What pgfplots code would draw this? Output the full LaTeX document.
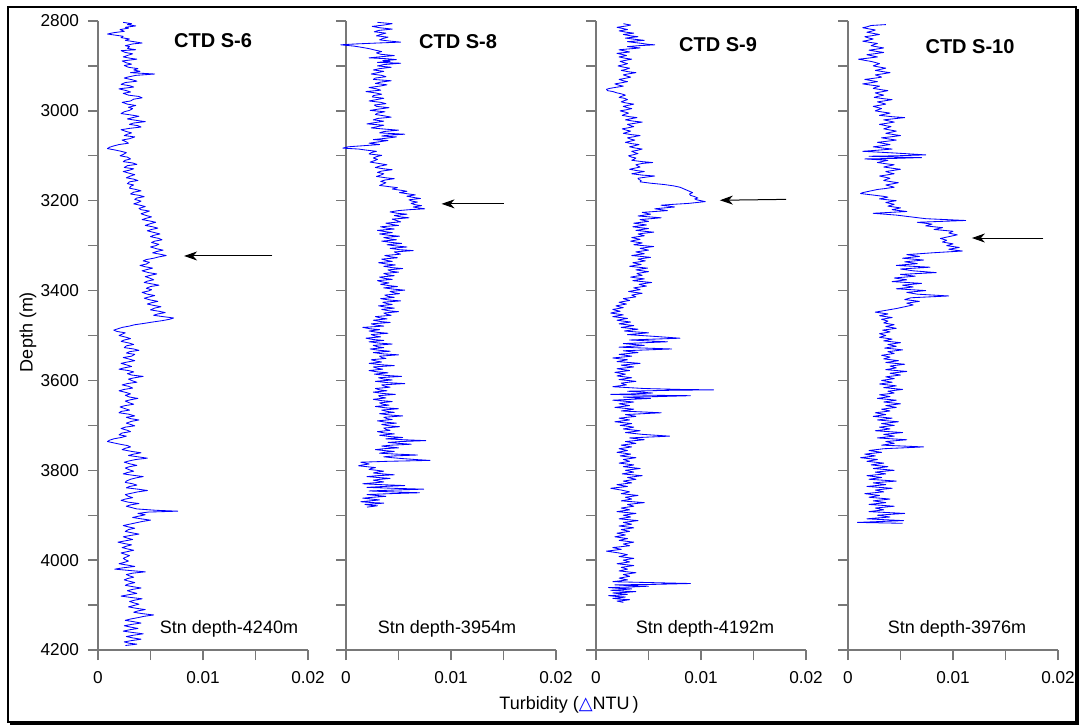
\documentclass[border=0pt]{standalone}
\usepackage{pgfplots}
\pgfplotsset{compat=1.18}
\usepackage{fontspec}
\setmainfont{Liberation Sans}
\newfontfamily\dejavu{DejaVu Sans}
\usetikzlibrary{arrows.meta}
\definecolor{axgray}{RGB}{120,120,120}
\pgfplotsset{ctd/.style={
  scale only axis, width=105pt, height=314.5pt,
  xmin=0, xmax=20, ymin=2800, ymax=4200, y dir=reverse,
  axis x line=bottom, axis y line=left,
  axis line style={-, draw=axgray, line width=0.7pt},
  xtick={0,5,10,15,20}, xticklabels={0,,0.01,,0.02},
  ytick={2800,2900,...,4200}, yticklabels={},
  tick align=outside, major tick length=5pt,
  tick style={draw=axgray, line width=0.7pt},
  tick label style={font=\fontsize{8.6}{10}\selectfont},
  xticklabel style={yshift=-2pt},
  yticklabel style={xshift=-1pt},
  clip=false,
  anchor=south west,
}}
\tikzset{trace/.style={blue, line width=0.42pt, mark=none, line join=round},
  arr/.style={-{Stealth[length=6.5pt,width=4.5pt,inset=2pt]}, line width=0.5pt, black}}
\begin{document}
\begin{tikzpicture}
\path[use as bounding box] (0,0) rectangle (540pt,363.5pt);
\fill[white] (0,0) rectangle (540pt,363.5pt);
% panel 1
\begin{axis}[ctd, at={(49pt,38.5pt)}, yticklabels={2800,,3000,,3200,,3400,,3600,,3800,,4000,,4200}]
\addplot[trace] coordinates {
(2.4,2803) (3.2,2806) (2.8,2808) (3.6,2811) (2.6,2814) (2.9,2816) (2.1,2819) (2.5,2823) (1.5,2826) (0.9,2829)
(1.8,2832) (2.4,2834) (2.2,2837) (3.0,2840) (2.6,2843) (3.4,2846) (4.2,2849) (3.3,2851) (2.6,2855) (3.0,2857)
(2.8,2861) (3.6,2864) (2.2,2866) (2.6,2870) (3.3,2873) (2.9,2876) (2.4,2880) (3.1,2883) (3.7,2885) (2.3,2889)
(2.7,2893) (3.2,2896) (2.5,2899) (2.9,2903) (3.8,2906) (3.4,2909) (4.0,2912) (3.1,2915) (5.4,2918) (3.6,2921)
(2.8,2925) (2.5,2927) (3.3,2931) (3.7,2934) (2.6,2937) (2.2,2941) (3.0,2944) (3.4,2947) (2.0,2951) (2.7,2955)
(3.1,2958) (2.4,2961) (2.9,2965) (3.9,2968) (4.2,2971) (3.4,2974) (3.1,2978) (2.3,2981) (2.8,2985) (3.6,2988)
(2.9,2992) (3.3,2995) (3.0,2999) (2.5,3002) (2.2,3006) (3.1,3009) (3.9,3012) (3.3,3015) (2.8,3018) (3.6,3021)
(4.5,3024) (3.4,3027) (3.0,3030) (3.8,3033) (4.1,3036) (3.0,3039) (2.2,3042) (2.7,3046) (3.2,3049) (2.8,3052)
(2.5,3055) (3.5,3058) (3.0,3062) (2.3,3065) (2.7,3069) (2.9,3072) (2.0,3075) (1.5,3078) (1.1,3081) (0.9,3084)
(1.6,3087) (2.2,3090) (2.7,3093) (2.4,3097) (2.1,3100) (2.8,3103) (3.1,3107) (2.6,3110) (2.4,3113) (3.3,3116)
(3.7,3119) (2.8,3122) (2.5,3126) (3.4,3129) (3.0,3132) (2.4,3135) (3.0,3139) (3.5,3142) (3.1,3145) (2.7,3149)
(3.4,3152) (3.8,3155) (3.0,3158) (2.8,3162) (3.4,3165) (3.1,3168) (3.0,3172) (3.6,3175) (4.1,3178) (3.4,3181)
(3.1,3185) (3.9,3188) (4.4,3191) (3.7,3194) (3.5,3197) (4.1,3201) (3.8,3204) (3.4,3207) (4.0,3210) (4.5,3213)
(3.9,3217) (4.1,3220) (4.9,3223) (4.5,3226) (4.1,3229) (4.6,3233) (5.1,3236) (4.6,3239) (4.2,3242) (4.9,3245)
(5.5,3248) (5.0,3251) (4.5,3255) (5.2,3258) (5.7,3261) (5.1,3264) (4.7,3267) (5.4,3271) (5.9,3274) (5.3,3277)
(5.0,3280) (5.8,3284) (6.1,3287) (5.4,3290) (5.1,3293) (5.8,3297) (5.5,3300) (5.0,3303) (5.6,3307) (6.2,3310)
(5.6,3313) (5.2,3316) (5.9,3319) (6.5,3322) (5.8,3325) (5.3,3328) (4.6,3331) (4.3,3334) (4.9,3337) (4.6,3341)
(4.0,3344) (4.5,3347) (5.2,3350) (4.7,3353) (4.2,3356) (4.8,3360) (5.6,3363) (5.0,3366) (4.5,3369) (4.9,3372)
(5.3,3376) (4.7,3379) (4.4,3382) (5.1,3385) (5.8,3388) (5.0,3391) (4.6,3395) (5.1,3398) (4.8,3401) (4.2,3404)
(4.7,3408) (5.4,3411) (4.9,3414) (4.4,3417) (5.0,3421) (5.7,3424) (5.1,3427) (4.7,3430) (5.3,3433) (6.0,3436)
(5.4,3439) (5.0,3443) (5.8,3446) (6.4,3449) (5.7,3452) (5.3,3455) (6.2,3458) (7.2,3461) (6.8,3464) (6.1,3467)
(5.2,3470) (4.4,3473) (3.5,3476) (3.0,3479) (2.3,3482) (1.9,3485) (1.5,3488) (1.8,3491) (2.6,3494) (2.3,3497)
(2.0,3500) (2.7,3504) (3.1,3507) (2.5,3510) (2.2,3513) (3.0,3517) (3.4,3520) (2.7,3523) (2.5,3527) (3.4,3530)
(3.9,3533) (3.0,3536) (2.7,3539) (3.5,3542) (3.2,3546) (2.4,3549) (2.9,3552) (3.5,3556) (2.8,3559) (2.2,3562)
(2.8,3566) (3.2,3569) (2.5,3572) (2.0,3575) (2.9,3578) (3.4,3581) (2.8,3585) (3.2,3588) (4.3,3591) (3.5,3594)
(2.9,3597) (3.3,3601) (3.7,3604) (2.8,3607) (2.3,3610) (2.9,3613) (3.3,3617) (2.5,3620) (2.0,3623) (2.7,3627)
(3.1,3630) (2.6,3633) (3.0,3637) (3.8,3640) (3.1,3643) (2.6,3646) (3.0,3650) (3.4,3653) (2.6,3656) (2.1,3659)
(2.6,3663) (3.0,3666) (2.2,3669) (2.0,3672) (2.9,3675) (3.5,3679) (2.7,3682) (3.1,3685) (3.9,3688) (3.2,3691)
(2.7,3695) (3.1,3698) (3.5,3701) (2.6,3704) (2.2,3707) (2.8,3711) (3.1,3714) (2.3,3717) (2.0,3721) (2.7,3724)
(2.2,3727) (1.5,3730) (1.1,3733) (0.9,3736) (1.5,3739) (2.1,3742) (2.8,3745) (3.1,3748) (2.6,3751) (2.3,3754)
(3.2,3758) (4.1,3761) (3.4,3764) (2.9,3767) (3.8,3770) (4.7,3773) (3.6,3776) (3.0,3779) (2.5,3782) (3.1,3786)
(3.7,3789) (3.0,3792) (2.6,3795) (3.0,3799) (3.4,3802) (2.8,3805) (2.4,3808) (3.3,3811) (4.3,3814) (3.6,3817)
(3.1,3820) (2.7,3824) (2.6,3827) (3.3,3830) (3.7,3833) (3.0,3836) (2.7,3839) (3.8,3842) (4.7,3845) (3.8,3848)
(3.2,3851) (2.6,3854) (2.9,3858) (3.3,3861) (2.6,3864) (2.2,3867) (2.9,3871) (3.9,3874) (3.1,3877) (2.7,3880)
(3.2,3883) (3.7,3886) (5.5,3889) (7.6,3891) (4.8,3893) (3.8,3896) (4.5,3899) (3.9,3902) (3.3,3905) (4.1,3908)
(5.0,3911) (4.2,3914) (3.6,3917) (3.0,3920) (2.4,3923) (2.9,3926) (3.5,3929) (2.9,3932) (2.6,3936) (3.2,3939)
(3.9,3942) (3.1,3945) (2.4,3948) (2.8,3951) (3.3,3954) (2.6,3957) (1.9,3960) (2.5,3963) (3.2,3966) (2.7,3969)
(2.3,3972) (2.8,3975) (3.4,3978) (2.8,3981) (2.2,3984) (2.6,3987) (3.0,3990) (2.7,3993) (2.4,3996) (2.6,3999)
(2.9,4002) (2.5,4005) (2.0,4008) (2.8,4011) (3.5,4014) (2.4,4017) (1.6,4020) (3.0,4023) (4.5,4026) (3.3,4029)
(2.7,4032) (3.0,4035) (3.4,4038) (2.8,4041) (2.5,4044) (3.0,4047) (3.5,4050) (2.9,4053) (2.6,4056) (3.3,4059)
(4.1,4062) (3.3,4065) (2.8,4068) (3.2,4071) (3.7,4074) (2.9,4077) (2.2,4080) (3.1,4083) (4.2,4086) (3.5,4089)
(3.0,4092) (3.4,4095) (3.9,4098) (3.4,4101) (2.9,4104) (3.6,4107) (4.5,4110) (3.8,4113) (3.4,4116) (4.2,4119)
(5.3,4122) (4.4,4125) (3.8,4128) (3.1,4131) (2.6,4134) (3.4,4137) (4.1,4140) (3.2,4143) (2.5,4146) (3.1,4149)
(3.8,4152) (3.0,4155) (2.4,4158) (3.3,4161) (4.3,4164) (3.4,4167) (2.7,4170) (3.3,4173) (4.1,4176) (3.2,4179)
(2.5,4182) (3.0,4185) (3.7,4187) (2.6,4190)
};
\draw[arr] (axis cs:16.6,3323) -- (axis cs:8.2,3323);
\end{axis}
% panel 2
\begin{axis}[ctd, at={(173pt,38.5pt)}]
\addplot[trace] coordinates {
(3.0,2803) (4.4,2806) (3.6,2809) (2.5,2812) (3.2,2815) (4.4,2818) (3.1,2821) (2.7,2824) (3.8,2827) (3.3,2830)
(2.9,2833) (4.0,2836) (3.5,2839) (3.2,2842) (4.3,2845) (5.2,2847) (3.0,2849) (1.0,2851) (-0.5,2853) (0.8,2856)
(1.6,2859) (2.3,2862) (2.8,2865) (3.4,2868) (2.9,2871) (3.3,2874) (4.6,2877) (3.1,2880) (2.2,2882) (3.9,2884)
(4.8,2886) (3.5,2888) (4.2,2890) (3.0,2892) (5.2,2894) (3.6,2897) (3.0,2900) (4.3,2903) (3.2,2906) (2.6,2909)
(3.6,2912) (3.0,2915) (2.4,2918) (3.4,2921) (3.8,2924) (2.8,2927) (2.6,2930) (4.3,2933) (3.3,2936) (2.8,2939)
(3.9,2942) (3.2,2945) (2.2,2948) (2.9,2951) (3.3,2954) (1.9,2957) (2.8,2960) (3.4,2963) (2.6,2966) (2.5,2969)
(3.6,2972) (2.9,2975) (2.2,2978) (3.3,2981) (3.8,2984) (2.7,2987) (2.9,2990) (4.1,2993) (3.1,2996) (2.3,2999)
(3.7,3002) (3.0,3005) (2.8,3008) (3.6,3011) (4.3,3014) (3.0,3017) (2.6,3020) (3.6,3023) (2.8,3026) (2.0,3029)
(3.6,3032) (3.0,3035) (2.4,3038) (3.9,3041) (5.0,3043) (3.6,3046) (3.2,3049) (5.6,3052) (4.0,3054) (3.4,3056)
(4.8,3058) (3.8,3061) (2.6,3064) (4.0,3066) (3.1,3069) (2.2,3072) (3.2,3075) (1.4,3078) (0.2,3080) (-0.3,3083)
(1.2,3085) (1.8,3087) (2.9,3090) (2.4,3093) (2.2,3096) (3.4,3099) (2.9,3102) (2.6,3105) (3.0,3108) (2.7,3111)
(2.3,3114) (3.1,3117) (3.9,3120) (3.2,3123) (2.8,3126) (3.6,3129) (4.4,3131) (3.4,3134) (3.0,3137) (3.6,3140)
(3.3,3143) (2.9,3146) (3.8,3149) (4.6,3151) (3.7,3154) (3.3,3157) (3.8,3160) (3.5,3163) (3.2,3166) (4.2,3169)
(4.9,3171) (4.4,3174) (5.3,3177) (5.8,3179) (5.1,3182) (6.0,3185) (6.6,3187) (5.8,3190) (6.5,3193) (7.1,3195)
(6.0,3198) (6.3,3201) (6.8,3203) (6.2,3206) (6.6,3209) (7.2,3211) (6.4,3214) (6.9,3216) (7.5,3218) (6.0,3220)
(5.0,3222) (4.2,3225) (4.9,3228) (5.8,3230) (4.6,3233) (5.2,3236) (6.0,3238) (4.4,3241) (4.8,3244) (5.2,3247)
(3.8,3250) (4.4,3253) (5.0,3255) (3.3,3258) (3.9,3261) (4.6,3263) (3.0,3266) (3.8,3269) (4.4,3271) (3.2,3274)
(4.1,3277) (5.1,3279) (3.6,3282) (4.2,3285) (4.8,3287) (3.4,3290) (4.4,3293) (5.3,3295) (3.9,3298) (4.9,3301)
(5.8,3303) (4.2,3306) (5.1,3309) (6.4,3311) (4.6,3314) (4.9,3317) (5.2,3319) (3.7,3322) (4.3,3325) (4.9,3327)
(3.4,3330) (3.9,3333) (4.4,3335) (3.1,3338) (3.9,3341) (4.7,3343) (3.6,3346) (4.4,3349) (5.4,3351) (4.0,3354)
(4.3,3357) (5.0,3359) (3.6,3362) (4.0,3365) (4.6,3367) (3.2,3370) (3.7,3373) (4.4,3375) (3.0,3378) (3.5,3381)
(4.1,3383) (3.3,3386) (4.1,3389) (4.9,3391) (3.6,3394) (4.6,3397) (5.6,3399) (4.2,3402) (4.6,3405) (5.1,3407)
(3.7,3410) (4.0,3413) (4.6,3415) (3.3,3418) (4.1,3421) (5.2,3423) (3.5,3426) (3.9,3429) (4.4,3431) (3.1,3434)
(3.8,3437) (4.6,3439) (3.4,3442) (4.1,3445) (5.0,3447) (3.6,3450) (3.9,3453) (4.3,3455) (2.8,3458) (3.3,3461)
(3.9,3463) (2.6,3466) (3.3,3469) (4.2,3471) (2.4,3474) (2.9,3477) (3.6,3479) (1.6,3482) (2.3,3485) (3.2,3487)
(2.2,3490) (3.0,3493) (4.0,3495) (2.4,3498) (2.8,3501) (3.3,3503) (1.9,3506) (2.6,3509) (3.6,3511) (2.2,3514)
(3.2,3517) (4.4,3519) (2.6,3522) (3.0,3525) (3.6,3527) (2.3,3530) (3.2,3533) (4.2,3535) (2.6,3538) (3.6,3541)
(5.0,3543) (3.2,3546) (3.4,3549) (3.8,3551) (2.4,3554) (2.9,3557) (3.4,3559) (2.2,3562) (3.3,3565) (4.6,3567)
(2.6,3570) (3.0,3573) (3.5,3575) (2.2,3578) (3.0,3581) (4.0,3583) (2.7,3586) (3.9,3589) (5.3,3591) (3.1,3594)
(3.6,3597) (4.4,3599) (2.8,3602) (4.0,3605) (5.6,3607) (3.4,3610) (3.7,3613) (4.2,3615) (2.8,3618) (3.2,3621)
(3.9,3623) (2.6,3626) (3.5,3629) (4.7,3631) (3.1,3634) (3.3,3637) (3.8,3639) (2.6,3642) (3.4,3645) (4.4,3647)
(3.2,3650) (3.5,3653) (4.1,3655) (2.8,3658) (3.8,3661) (5.0,3663) (3.4,3666) (3.9,3669) (4.6,3671) (3.2,3674)
(4.2,3677) (5.4,3679) (3.6,3682) (3.9,3685) (4.4,3687) (3.0,3690) (3.8,3693) (4.8,3695) (3.4,3698) (4.1,3701)
(5.1,3703) (3.6,3706) (3.8,3709) (4.2,3711) (3.0,3714) (3.7,3717) (4.6,3719) (3.2,3722) (4.2,3725) (5.4,3727)
(3.8,3730) (5.5,3732) (7.6,3734) (5.2,3736) (4.0,3738) (5.0,3740) (6.2,3742) (4.4,3744) (3.4,3746) (4.1,3748)
(5.0,3750) (3.6,3752) (2.8,3754) (3.6,3756) (4.6,3758) (3.7,3760) (3.2,3762) (4.8,3764) (6.8,3766) (4.6,3768)
(3.6,3770) (4.4,3772) (5.4,3774) (6.6,3776) (8.0,3778) (4.0,3780) (1.4,3782) (1.8,3784) (2.2,3786) (1.6,3788)
(1.2,3790) (2.0,3792) (2.8,3794) (2.4,3796) (2.2,3798) (2.9,3800) (3.6,3802) (3.0,3804) (2.6,3806) (3.5,3808)
(4.6,3810) (3.0,3812) (2.0,3814) (3.0,3816) (4.2,3818) (3.3,3820) (2.6,3822) (3.1,3824) (3.6,3826) (2.6,3828)
(1.6,3830) (3.4,3832) (5.6,3834) (3.6,3836) (2.0,3838) (4.4,3840) (7.4,3842) (4.6,3844) (2.2,3846) (4.4,3848)
(7.0,3850) (4.2,3852) (2.0,3854) (2.9,3856) (3.8,3858) (2.6,3860) (1.6,3862) (2.4,3864) (3.2,3866) (2.3,3868)
(1.4,3870) (2.6,3872) (3.6,3873) (2.7,3875) (1.8,3876) (2.4,3878) (3.0,3879) (2.0,3882)
};
\draw[arr] (axis cs:15.0,3207) -- (axis cs:9.1,3207);
\end{axis}
% panel 3
\begin{axis}[ctd, at={(298pt,38.5pt)}]
\addplot[trace] coordinates {
(2.6,2806) (3.3,2809) (2.9,2811) (2.0,2814) (2.6,2817) (3.0,2819) (2.2,2822) (2.9,2825) (3.6,2827) (2.6,2830)
(3.3,2833) (4.0,2835) (2.8,2838) (3.8,2841) (4.6,2843) (3.0,2846) (3.7,2848) (4.4,2850) (5.0,2852) (5.6,2853)
(4.0,2855) (3.0,2857) (4.2,2860) (3.2,2862) (2.2,2864) (2.8,2867) (3.2,2869) (2.0,2872) (2.6,2875) (2.9,2877)
(2.2,2880) (2.8,2883) (3.4,2885) (2.7,2888) (2.3,2890) (2.7,2893) (3.0,2895) (2.5,2898) (2.1,2900) (2.7,2903)
(3.2,2905) (2.8,2908) (2.4,2910) (3.1,2913) (3.8,2915) (3.0,2918) (2.6,2920) (3.0,2923) (3.3,2925) (2.7,2928)
(2.2,2930) (2.6,2933) (3.0,2935) (2.3,2938) (1.8,2940) (2.2,2943) (2.6,2945) (1.8,2948) (1.3,2950) (1.0,2952)
(1.1,2955) (1.6,2957) (2.0,2960) (2.4,2962) (2.8,2965) (2.5,2967) (2.2,2970) (2.7,2972) (3.0,2975) (2.6,2978)
(2.4,2980) (3.0,2983) (3.6,2985) (3.0,2988) (2.6,2990) (3.0,2993) (3.4,2995) (2.8,2998) (2.3,3000) (2.8,3003)
(3.1,3005) (2.7,3008) (2.5,3010) (3.2,3013) (3.9,3015) (3.2,3018) (2.8,3020) (3.6,3023) (4.4,3025) (3.6,3028)
(3.0,3030) (3.3,3033) (3.6,3035) (3.0,3038) (2.5,3040) (2.9,3043) (3.3,3045) (2.9,3048) (2.6,3050) (3.4,3053)
(4.2,3055) (3.5,3058) (3.0,3060) (3.3,3063) (3.7,3065) (3.2,3068) (2.8,3070) (3.4,3073) (4.1,3075) (3.6,3078)
(3.2,3080) (3.8,3083) (4.4,3085) (3.9,3088) (3.4,3090) (3.7,3093) (4.0,3095) (3.5,3098) (3.1,3100) (3.4,3103)
(3.8,3105) (3.6,3108) (3.4,3110) (4.4,3113) (5.4,3115) (4.4,3117) (3.8,3120) (4.0,3123) (4.2,3125) (3.6,3128)
(3.2,3130) (3.9,3133) (4.6,3135) (3.9,3138) (3.4,3140) (4.4,3143) (5.6,3145) (4.6,3148) (4.0,3150) (4.1,3153)
(4.3,3155) (4.2,3158) (5.2,3161) (6.5,3164) (7.4,3167) (8.0,3170) (8.3,3173) (8.6,3176) (8.9,3179) (9.2,3182)
(8.9,3185) (9.0,3188) (9.4,3191) (9.7,3194) (9.4,3196) (9.6,3198) (10.0,3200) (10.4,3202) (9.6,3204) (8.8,3206)
(7.4,3208) (6.2,3210) (6.9,3212) (7.5,3214) (6.5,3216) (5.6,3218) (6.2,3220) (6.8,3222) (5.6,3224) (4.4,3226)
(4.8,3228) (5.2,3230) (4.6,3232) (4.0,3234) (5.1,3236) (6.2,3238) (5.2,3240) (4.2,3242) (4.6,3244) (5.0,3246)
(4.3,3248) (3.6,3250) (4.2,3252) (4.8,3254) (4.1,3256) (3.5,3258) (4.2,3260) (5.0,3262) (4.4,3264) (3.8,3266)
(4.6,3268) (5.5,3270) (4.7,3272) (4.0,3274) (4.3,3276) (4.6,3278) (4.0,3280) (3.4,3282) (3.8,3284) (4.2,3286)
(3.7,3288) (3.3,3290) (3.8,3292) (4.4,3294) (4.0,3296) (3.6,3298) (4.5,3300) (5.5,3302) (4.8,3304) (4.2,3306)
(4.6,3308) (5.0,3310) (4.4,3312) (3.8,3314) (4.2,3316) (4.6,3318) (4.0,3320) (3.4,3322) (4.3,3324) (5.2,3326)
(4.6,3328) (4.0,3330) (4.3,3332) (4.7,3334) (4.1,3336) (3.5,3338) (3.9,3340) (4.3,3342) (3.7,3344) (3.2,3346)
(4.0,3348) (4.9,3350) (4.3,3352) (3.8,3354) (4.4,3356) (5.0,3358) (4.4,3360) (3.9,3362) (4.1,3364) (4.4,3366)
(3.8,3368) (3.3,3370) (3.9,3372) (4.6,3374) (4.0,3376) (3.5,3378) (4.4,3380) (5.3,3382) (4.7,3384) (4.1,3386)
(4.4,3388) (4.8,3390) (4.2,3392) (3.6,3394) (3.9,3396) (4.2,3398) (3.6,3400) (3.1,3402) (3.7,3404) (4.4,3406)
(3.9,3408) (3.4,3410) (3.6,3412) (3.8,3414) (3.2,3416) (2.6,3418) (2.9,3420) (3.2,3422) (2.7,3424) (2.2,3426)
(2.5,3428) (2.9,3430) (2.4,3432) (1.9,3434) (2.2,3436) (2.6,3438) (2.1,3440) (1.6,3442) (1.9,3444) (2.3,3446)
(1.8,3448) (1.4,3450) (2.0,3452) (2.6,3454) (2.1,3456) (1.6,3458) (2.3,3460) (3.0,3462) (2.5,3464) (2.0,3466)
(2.6,3468) (3.3,3470) (2.7,3472) (2.2,3474) (2.9,3476) (3.6,3478) (3.0,3480) (2.4,3482) (3.2,3484) (4.0,3486)
(3.3,3488) (2.7,3490) (3.8,3492) (5.0,3494) (4.0,3496) (3.0,3498) (4.3,3500) (5.6,3502) (6.8,3504) (8.0,3506)
(5.6,3508) (3.2,3510) (5.0,3512) (6.8,3514) (4.7,3516) (2.6,3518) (3.6,3520) (4.6,3522) (3.4,3524) (2.2,3526)
(4.7,3528) (7.2,3530) (4.9,3532) (2.6,3534) (3.3,3536) (4.0,3538) (3.1,3540) (2.2,3542) (2.8,3544) (3.4,3546)
(2.5,3548) (1.6,3550) (2.3,3552) (3.0,3554) (2.5,3556) (2.0,3558) (3.1,3560) (4.2,3562) (3.3,3564) (2.4,3566)
(3.0,3568) (3.6,3570) (2.8,3572) (2.0,3574) (2.6,3576) (3.2,3578) (2.5,3580) (1.8,3582) (2.3,3584) (2.8,3586)
(2.4,3588) (2.0,3590) (2.7,3592) (3.4,3594) (2.8,3596) (2.2,3598) (3.0,3600) (3.8,3602) (3.1,3604) (2.4,3606)
(2.6,3608) (2.9,3610) (2.2,3612) (1.6,3614) (3.1,3616) (4.6,3618) (8.0,3620) (11.2,3621) (7.0,3622) (3.0,3624)
(4.2,3626) (5.4,3628) (3.4,3630) (1.4,3631) (5.2,3633) (9.0,3634) (5.8,3636) (2.6,3637) (3.9,3639) (5.2,3640)
(3.4,3642) (1.6,3644) (2.6,3646) (3.6,3648) (2.9,3650) (2.2,3652) (2.7,3654) (3.2,3656) (2.5,3658) (1.8,3660)
(2.7,3662) (3.6,3664) (3.0,3666) (2.4,3668) (4.3,3670) (6.2,3672) (4.5,3674) (2.8,3676) (3.3,3678) (3.8,3680)
(3.0,3682) (2.2,3684) (2.7,3686) (3.2,3688) (2.5,3690) (1.8,3692) (2.6,3694) (3.4,3696) (2.9,3698) (2.3,3700)
(3.0,3702) (3.6,3704) (3.1,3706) (2.6,3708) (3.4,3710) (4.2,3712) (3.5,3714) (2.8,3716) (3.6,3718) (4.4,3720)
(5.7,3722) (7.0,3724) (5.1,3726) (3.2,3728) (3.9,3730) (4.6,3732) (3.7,3734) (2.8,3736) (3.3,3738) (3.8,3740)
(3.1,3742) (2.4,3744) (2.9,3746) (3.4,3748) (2.8,3750) (2.2,3752) (2.6,3754) (3.0,3756) (2.5,3758) (2.0,3760)
(2.7,3762) (3.3,3764) (2.8,3766) (2.3,3768) (3.0,3770) (3.8,3772) (3.2,3774) (2.6,3776) (2.9,3778) (3.2,3780)
(2.7,3782) (2.2,3784) (2.9,3786) (3.6,3788) (3.1,3790) (2.6,3792) (3.4,3794) (4.2,3796) (3.5,3798) (2.8,3800)
(3.2,3802) (3.6,3804) (3.0,3806) (2.5,3808) (3.4,3810) (4.4,3812) (3.7,3814) (3.0,3816) (3.4,3818) (3.8,3820)
(3.2,3822) (2.6,3824) (3.0,3826) (3.4,3828) (2.7,3830) (2.0,3832) (2.5,3834) (3.0,3836) (2.2,3838) (1.4,3840)
(1.9,3842) (2.4,3844) (2.8,3846) (3.2,3848) (2.8,3850) (2.4,3852) (3.2,3854) (4.0,3856) (3.4,3858) (2.8,3860)
(3.1,3862) (3.4,3864) (2.9,3866) (2.4,3868) (3.5,3870) (4.6,3872) (3.8,3874) (3.0,3876) (3.3,3878) (3.6,3880)
(3.0,3882) (2.4,3884) (2.8,3886) (3.2,3888) (2.6,3890) (2.0,3892) (2.9,3894) (3.8,3896) (3.2,3898) (2.6,3900)
(3.0,3902) (3.3,3904) (2.7,3906) (2.2,3908) (3.1,3910) (4.0,3912) (3.3,3914) (2.6,3916) (3.0,3918) (3.4,3920)
(2.8,3922) (2.2,3924) (2.9,3926) (3.6,3928) (3.0,3930) (2.4,3932) (2.8,3934) (3.2,3936) (2.6,3938) (2.0,3940)
(2.4,3942) (2.8,3944) (2.3,3946) (1.8,3948) (2.4,3950) (3.0,3952) (2.6,3954) (2.2,3956) (2.9,3958) (3.6,3960)
(3.1,3962) (2.6,3964) (2.9,3966) (3.2,3968) (2.4,3970) (1.6,3972) (2.0,3974) (2.4,3976) (1.7,3978) (1.0,3980)
(1.6,3982) (2.2,3984) (2.6,3986) (3.0,3988) (2.6,3990) (2.2,3992) (2.9,3994) (3.6,3996) (3.1,3998) (2.6,4000)
(2.9,4002) (3.2,4004) (2.6,4006) (2.0,4008) (2.8,4010) (3.6,4012) (3.0,4014) (2.4,4016) (2.7,4018) (3.0,4020)
(2.6,4022) (2.2,4024) (3.0,4026) (3.8,4028) (3.2,4030) (2.6,4032) (2.9,4034) (3.2,4036) (2.7,4038) (2.2,4040)
(2.6,4042) (3.0,4044) (2.3,4046) (1.6,4048) (5.3,4050) (9.0,4052) (5.4,4054) (1.8,4055) (3.4,4057) (5.0,4058)
(3.1,4060) (1.2,4061) (2.3,4063) (3.4,4064) (2.4,4066) (1.4,4067) (2.6,4069) (3.8,4070) (2.7,4072) (1.6,4073)
(2.3,4075) (3.0,4076) (2.1,4078) (1.2,4079) (2.0,4081) (2.8,4082) (2.2,4084) (1.6,4085) (2.4,4087) (3.2,4088)
(2.6,4090) (2.0,4091) (2.6,4094)
};
\draw[arr] (axis cs:18.1,3197) -- (axis cs:11.8,3199);
\end{axis}
% panel 4
\begin{axis}[ctd, at={(424pt,38.5pt)}]
\addplot[trace] coordinates {
(3.6,2808) (2.2,2810) (1.8,2813) (1.4,2815) (2.1,2818) (2.6,2820) (2.2,2823) (1.8,2825) (2.5,2828) (3.0,2830)
(2.2,2833) (1.6,2835) (2.0,2838) (2.4,2840) (1.9,2843) (1.4,2845) (2.2,2848) (2.8,2850) (2.4,2853) (2.2,2855)
(2.9,2858) (3.4,2860) (2.6,2863) (2.0,2865) (2.8,2868) (3.4,2870) (2.5,2873) (1.8,2875) (2.4,2878) (2.8,2880)
(1.8,2883) (1.0,2885) (1.7,2888) (2.2,2890) (2.7,2893) (3.0,2895) (2.6,2898) (2.4,2900) (3.1,2903) (3.6,2905)
(3.0,2908) (2.6,2910) (3.4,2913) (4.0,2915) (3.2,2918) (2.6,2920) (3.0,2923) (3.2,2925) (2.3,2928) (1.6,2930)
(2.3,2933) (2.8,2935) (2.0,2938) (1.4,2940) (2.3,2943) (3.0,2945) (2.6,2948) (2.4,2950) (3.2,2953) (3.8,2955)
(3.1,2958) (2.6,2960) (3.0,2963) (3.4,2965) (2.8,2968) (2.5,2970) (3.4,2973) (4.2,2975) (3.4,2978) (2.8,2980)
(3.3,2983) (3.6,2985) (2.9,2988) (2.4,2990) (2.9,2993) (3.2,2995) (2.8,2998) (2.6,3000) (3.4,3003) (4.0,3005)
(3.4,3008) (3.0,3010) (4.2,3013) (5.4,3015) (4.2,3018) (3.4,3020) (4.0,3023) (4.4,3025) (3.6,3028) (3.0,3030)
(3.6,3033) (4.1,3035) (3.7,3038) (3.4,3040) (4.1,3043) (4.6,3045) (4.0,3048) (3.6,3050) (4.4,3053) (5.0,3055)
(4.0,3058) (3.2,3060) (4.0,3063) (4.6,3065) (3.6,3068) (2.8,3070) (3.5,3073) (4.0,3075) (3.1,3078) (2.4,3080)
(3.4,3083) (4.2,3085) (2.6,3088) (1.4,3090) (3.0,3092) (4.6,3094) (6.0,3096) (7.4,3098) (4.6,3100) (2.0,3101)
(4.6,3103) (7.0,3104) (4.2,3106) (1.6,3107) (3.8,3110) (3.2,3113) (2.8,3115) (3.7,3118) (4.4,3120) (3.8,3123)
(3.4,3125) (4.3,3128) (5.0,3130) (4.2,3133) (3.6,3135) (4.0,3138) (4.4,3140) (3.6,3143) (3.0,3145) (3.6,3148)
(4.0,3150) (3.6,3153) (3.4,3155) (4.2,3158) (4.8,3160) (4.1,3163) (3.6,3165) (4.1,3168) (4.4,3170) (3.5,3173)
(2.8,3175) (2.2,3178) (1.8,3180) (1.4,3182) (1.2,3184) (1.9,3186) (2.6,3188) (3.3,3190) (3.8,3192) (3.4,3194)
(3.0,3196) (3.8,3198) (4.6,3200) (4.0,3202) (3.6,3204) (4.0,3206) (4.4,3208) (4.1,3210) (3.8,3212) (4.4,3214)
(5.0,3216) (4.6,3218) (4.2,3220) (4.9,3222) (5.6,3224) (4.0,3226) (2.4,3228) (3.5,3230) (4.6,3232) (5.3,3234)
(6.0,3236) (6.7,3238) (7.4,3240) (9.3,3242) (11.2,3244) (8.9,3246) (6.6,3248) (7.3,3250) (8.0,3252) (7.7,3254)
(7.4,3256) (8.2,3258) (9.0,3260) (8.6,3262) (8.2,3264) (9.1,3266) (10.0,3268) (9.8,3270) (9.6,3272) (10.0,3274)
(10.4,3276) (10.0,3278) (9.6,3280) (9.2,3282) (8.8,3284) (9.1,3286) (9.4,3288) (9.2,3290) (9.0,3292) (9.5,3294)
(10.0,3296) (9.7,3298) (9.4,3300) (10.0,3302) (10.6,3304) (10.1,3306) (9.6,3308) (10.2,3310) (10.9,3312) (9.4,3314)
(8.0,3316) (6.8,3318) (5.6,3320) (6.2,3322) (6.8,3324) (6.0,3326) (5.2,3328) (6.2,3330) (7.2,3332) (6.3,3334)
(5.4,3336) (6.0,3338) (6.6,3340) (5.6,3342) (4.6,3344) (6.2,3346) (7.8,3348) (6.4,3350) (5.0,3352) (5.6,3354)
(6.2,3356) (7.3,3358) (8.4,3360) (6.7,3362) (5.0,3364) (5.7,3366) (6.4,3368) (5.4,3370) (4.4,3372) (5.0,3374)
(5.6,3376) (4.9,3378) (4.2,3380) (5.6,3382) (7.0,3384) (6.1,3386) (5.2,3388) (5.7,3390) (6.2,3392) (5.4,3394)
(4.6,3396) (6.0,3398) (7.4,3400) (6.5,3402) (5.6,3404) (6.1,3406) (6.6,3408) (8.1,3410) (9.6,3412) (7.8,3414)
(6.0,3416) (5.7,3418) (5.4,3420) (6.1,3422) (6.8,3424) (6.2,3426) (5.6,3428) (5.9,3430) (6.2,3432) (5.8,3434)
(5.4,3436) (5.0,3438) (4.6,3440) (4.1,3442) (3.6,3444) (3.1,3446) (2.6,3448) (3.2,3450) (3.8,3452) (3.4,3454)
(3.0,3456) (3.6,3458) (4.2,3460) (3.7,3462) (3.2,3464) (3.5,3466) (3.8,3468) (3.6,3470) (3.4,3472) (3.9,3474)
(4.4,3476) (4.0,3478) (3.6,3480) (4.1,3482) (4.6,3484) (4.0,3486) (3.3,3488) (3.7,3490) (4.0,3492) (3.5,3494)
(3.0,3496) (3.3,3498) (3.6,3500) (3.3,3502) (3.0,3504) (3.6,3506) (4.2,3508) (3.8,3510) (3.4,3512) (4.2,3514)
(5.0,3516) (4.4,3518) (3.8,3520) (4.2,3522) (4.6,3524) (4.0,3526) (3.5,3528) (4.4,3530) (5.2,3532) (4.5,3534)
(3.8,3536) (4.1,3538) (4.4,3540) (3.8,3542) (3.2,3544) (3.6,3546) (4.0,3548) (3.7,3550) (3.4,3552) (4.1,3554)
(4.8,3556) (4.2,3558) (3.6,3560) (4.5,3562) (5.4,3564) (4.7,3566) (4.0,3568) (4.3,3570) (4.6,3572) (4.1,3574)
(3.6,3576) (4.6,3578) (5.6,3580) (4.8,3582) (4.0,3584) (4.5,3586) (5.0,3588) (4.3,3590) (3.6,3592) (4.0,3594)
(4.4,3596) (3.8,3598) (3.2,3600) (3.7,3602) (4.2,3604) (3.6,3606) (3.0,3608) (3.8,3610) (4.6,3612) (4.0,3614)
(3.4,3616) (4.3,3618) (5.2,3620) (4.5,3622) (3.8,3624) (4.1,3626) (4.4,3628) (3.7,3630) (3.0,3632) (3.5,3634)
(4.0,3636) (3.4,3638) (2.8,3640) (3.7,3642) (4.6,3644) (4.0,3646) (3.4,3648) (4.2,3650) (5.0,3652) (4.3,3654)
(3.6,3656) (4.1,3658) (4.6,3660) (3.9,3662) (3.2,3664) (3.6,3666) (4.0,3668) (3.3,3670) (2.6,3672) (3.1,3674)
(3.6,3676) (3.0,3678) (2.4,3680) (3.3,3682) (4.2,3684) (3.5,3686) (2.8,3688) (3.8,3690) (4.8,3692) (4.0,3694)
(3.2,3696) (3.8,3698) (4.4,3700) (3.7,3702) (3.0,3704) (3.5,3706) (4.0,3708) (3.3,3710) (2.6,3712) (3.9,3714)
(5.2,3716) (4.3,3718) (3.4,3720) (3.9,3722) (4.4,3724) (3.6,3726) (2.8,3728) (4.2,3730) (5.6,3732) (4.6,3734)
(3.6,3736) (4.0,3738) (4.4,3740) (3.8,3742) (3.2,3744) (5.2,3746) (7.2,3748) (5.3,3750) (3.4,3752) (2.7,3754)
(2.0,3756) (2.6,3758) (3.2,3760) (2.4,3762) (1.6,3764) (2.1,3766) (2.6,3768) (1.9,3770) (1.2,3772) (2.0,3774)
(2.8,3776) (2.3,3778) (1.8,3780) (2.6,3782) (3.4,3784) (2.8,3786) (2.2,3788) (3.0,3790) (3.8,3792) (3.1,3794)
(2.4,3796) (3.4,3798) (4.4,3800) (3.5,3802) (2.6,3804) (3.1,3806) (3.6,3808) (2.7,3810) (1.8,3812) (2.5,3814)
(3.2,3816) (2.6,3818) (2.0,3820) (3.3,3822) (4.6,3824) (3.5,3826) (2.4,3828) (3.0,3830) (3.6,3832) (2.7,3834)
(1.8,3836) (3.0,3838) (4.2,3840) (3.4,3842) (2.6,3844) (3.0,3846) (3.4,3848) (2.5,3850) (1.6,3852) (2.3,3854)
(3.0,3856) (2.5,3858) (2.0,3860) (3.0,3862) (4.0,3864) (3.2,3866) (2.4,3868) (3.0,3870) (3.6,3872) (2.8,3874)
(2.0,3876) (3.2,3878) (4.4,3880) (3.5,3882) (2.6,3884) (3.0,3886) (3.4,3888) (2.7,3890) (2.0,3892) (3.7,3894)
(5.4,3896) (4.1,3898) (2.8,3900) (3.4,3902) (4.0,3904) (2.9,3906) (1.8,3908) (3.5,3910) (5.3,3912) (3.1,3914)
(0.9,3916) (5.2,3918)
};
\draw[arr] (axis cs:18.6,3283) -- (axis cs:11.8,3283);
\end{axis}
% titles and labels
\begin{scope}[font=\fontsize{10}{12}\selectfont\bfseries]
\node at (106.5pt,343pt) {CTD S-6};
\node at (229pt,342.5pt) {CTD S-8};
\node at (359pt,341pt) {CTD S-9};
\node at (485pt,340pt) {CTD S-10};
\end{scope}
\begin{scope}[font=\fontsize{9}{11}\selectfont]
\node[anchor=base] at (114.5pt,46.5pt) {Stn depth-4240m};
\node[anchor=base] at (223.5pt,46.5pt) {Stn depth-3954m};
\node[anchor=base] at (352.5pt,46.5pt) {Stn depth-4192m};
\node[anchor=base] at (478.5pt,46.5pt) {Stn depth-3976m};
\node[rotate=90] at (14pt,197.5pt) {Depth (m)};
\node at (284.5pt,11pt) {Turbidity ({\dejavu\textcolor{blue}{△}}NTU\,)};
\end{scope}
% frame
\draw[line width=1.2pt] (4pt,360pt) rectangle (538pt,2.5pt);
\draw[line width=0.8pt] (539pt,359pt) -- (539pt,1.6pt) -- (5pt,1.6pt);
\end{tikzpicture}
\end{document}
